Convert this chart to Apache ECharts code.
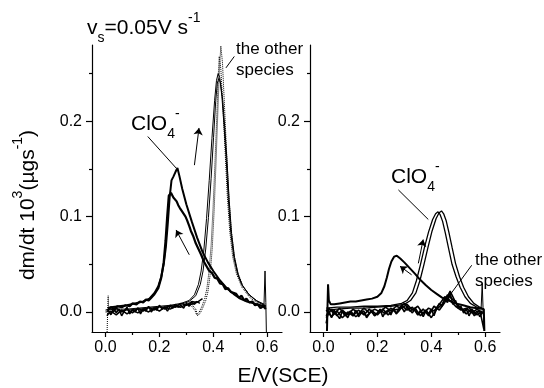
<!DOCTYPE html>
<html>
<head>
<meta charset="utf-8">
<script src="https://cdn.jsdelivr.net/npm/echarts@6/dist/echarts.min.js"></script>
<style>
  html, body { margin: 0; padding: 0; background: #fff; }
  #chart { width: 544px; height: 388px; }
</style>
</head>
<body>
<div id="chart"></div>
<script>
const FONT = 'Liberation Sans, Arial, Helvetica, sans-serif';

// tick values
const xMajorTicks = [0, 0.2, 0.4, 0.6];
const xMinorTicks = [0.1, 0.3, 0.5];
const yMajorTicks = [0, 0.1, 0.2];
const yMinorTicks = [0.05, 0.15, 0.25];

// ---- left panel: [E (V), dm/dt] ----
const leftFwdSolidA = [[0.00,0.002],[0.04,0.003],[0.08,0.003],[0.12,0.004],[0.16,0.005],[0.20,0.006],[0.24,0.007],[0.28,0.009],[0.31,0.012],[0.33,0.018],[0.345,0.029],[0.355,0.043],[0.365,0.065],[0.375,0.098],[0.385,0.138],[0.395,0.182],[0.405,0.222],[0.412,0.243],[0.418,0.250],[0.424,0.246],[0.432,0.226],[0.440,0.195],[0.448,0.160],[0.456,0.118],[0.465,0.083],[0.476,0.058],[0.490,0.040],[0.505,0.029],[0.53,0.019],[0.56,0.012],[0.59,0.008]];
const leftFwdSolidB = [[0.00,0.000],[0.04,0.001],[0.08,0.002],[0.12,0.003],[0.16,0.004],[0.20,0.005],[0.24,0.006],[0.28,0.008],[0.31,0.011],[0.335,0.017],[0.352,0.029],[0.362,0.043],[0.372,0.066],[0.382,0.099],[0.392,0.140],[0.401,0.183],[0.409,0.221],[0.415,0.240],[0.421,0.245],[0.427,0.240],[0.435,0.222],[0.443,0.192],[0.451,0.158],[0.459,0.117],[0.468,0.082],[0.479,0.057],[0.493,0.039],[0.508,0.028],[0.533,0.018],[0.563,0.011],[0.59,0.007]];
const leftFwdDotA = [[0.30,0.010],[0.32,0.008],[0.335,0.003],[0.342,-0.004],[0.352,-0.001],[0.362,0.005],[0.372,0.012],[0.38,0.021],[0.388,0.038],[0.396,0.066],[0.403,0.105],[0.41,0.155],[0.417,0.21],[0.423,0.255],[0.428,0.279],[0.434,0.262],[0.441,0.22],[0.449,0.17],[0.457,0.125],[0.466,0.088],[0.477,0.06],[0.49,0.042],[0.51,0.027],[0.54,0.016],[0.57,0.01],[0.595,0.006]];
const leftFwdDotB = [[0.30,0.009],[0.32,0.006],[0.333,0.001],[0.338,-0.003],[0.348,0.0],[0.358,0.006],[0.368,0.014],[0.376,0.024],[0.384,0.042],[0.392,0.07],[0.399,0.108],[0.406,0.155],[0.413,0.205],[0.418,0.245],[0.422,0.268],[0.428,0.255],[0.436,0.215],[0.444,0.168],[0.452,0.122],[0.461,0.085],[0.472,0.058],[0.486,0.04],[0.506,0.026],[0.536,0.015],[0.566,0.009],[0.595,0.005]];
const leftBackThick = [[0.595,0.006],[0.575,0.007],[0.55,0.009],[0.525,0.011],[0.5,0.014],[0.475,0.019],[0.45,0.025],[0.425,0.033],[0.40,0.043],[0.38,0.052],[0.36,0.063],[0.34,0.078],[0.32,0.095],[0.30,0.113],[0.285,0.129],[0.274,0.143],[0.267,0.151],[0.260,0.147],[0.252,0.142],[0.245,0.138],[0.238,0.12],[0.231,0.092],[0.224,0.068],[0.216,0.05],[0.207,0.037],[0.196,0.027],[0.182,0.02],[0.163,0.014],[0.14,0.011],[0.11,0.009],[0.08,0.007],[0.05,0.006],[0.02,0.005],[0.008,0.004]];
const leftBackMarker = [[0.595,0.003],[0.585,0.006],[0.575,0.004],[0.565,0.008],[0.555,0.007],[0.545,0.011],[0.533,0.01],[0.523,0.014],[0.515,0.012],[0.505,0.017],[0.495,0.015],[0.485,0.019],[0.475,0.02],[0.465,0.021],[0.455,0.025],[0.445,0.024],[0.435,0.029],[0.425,0.03],[0.415,0.035],[0.405,0.036],[0.395,0.041],[0.385,0.043],[0.375,0.048],[0.365,0.053],[0.355,0.06],[0.345,0.066],[0.335,0.072],[0.325,0.08],[0.317,0.085],[0.311,0.09],[0.303,0.096],[0.297,0.1],[0.29,0.102],[0.283,0.106],[0.276,0.109],[0.27,0.112],[0.264,0.116],[0.258,0.118],[0.252,0.12],[0.248,0.122],[0.243,0.125],[0.24,0.127],[0.235,0.122],[0.229,0.1],[0.223,0.075],[0.216,0.052],[0.207,0.036],[0.196,0.025],[0.18,0.018],[0.17,0.015],[0.16,0.012],[0.15,0.013],[0.14,0.01],[0.128,0.011],[0.115,0.008],[0.1,0.009],[0.09,0.006],[0.075,0.007],[0.06,0.005],[0.045,0.006],[0.03,0.003],[0.02,0.005],[0.01,0.002]];
const leftBase1 = [[0.005,0.003],[0.02,-0.002],[0.04,0.004],[0.06,0.0],[0.08,0.003],[0.10,-0.001],[0.12,0.004],[0.14,0.001],[0.16,0.005],[0.18,0.002],[0.20,0.006],[0.22,0.003],[0.24,0.007],[0.26,0.005],[0.28,0.009],[0.30,0.007],[0.32,0.011],[0.34,0.01],[0.36,0.014]];
const leftBase2 = [[0.005,-0.004],[0.02,0.001],[0.04,-0.003],[0.06,0.002],[0.08,-0.002],[0.10,0.002],[0.12,-0.001],[0.14,0.003],[0.16,0.0],[0.18,0.004],[0.20,0.001],[0.22,0.005],[0.24,0.003],[0.26,0.006],[0.28,0.005],[0.30,0.008],[0.32,0.008],[0.34,0.011]];
const leftBase3E = [0.01,0.02,0.03,0.04,0.05,0.06,0.07,0.08,0.09,0.10,0.11,0.12,0.13,0.14,0.15,0.16,0.17,0.18,0.19,0.20,0.21,0.22,0.23,0.24,0.25,0.26,0.27,0.28,0.29,0.30,0.31,0.32,0.33,0.34,0.35];
const leftBase3 = [0.002,-0.003,0.004,-0.001,0.003,-0.004,0.001,0.005,-0.002,0.002,0.0,0.004,-0.002,0.003,0.001,0.006,0.0,0.004,0.002,0.007,0.003,0.005,0.001,0.006,0.004,0.008,0.005,0.007,0.004,0.009,0.006,0.01,0.008,0.011,0.009];
const leftSpikeStart = [[0.006,-0.021],[0.008,0.0],[0.01,0.017],[0.012,0.002],[0.014,0.004]];
const leftSpikeEnd = [[0.588,0.006],[0.592,0.043],[0.595,0.01],[0.597,-0.021]];

// ---- right panel ----
const rightFwdA = [[0.01,0.004],[0.05,0.005],[0.10,0.005],[0.15,0.006],[0.20,0.006],[0.25,0.007],[0.29,0.009],[0.31,0.012],[0.33,0.02],[0.345,0.033],[0.36,0.05],[0.375,0.068],[0.39,0.084],[0.405,0.097],[0.416,0.103],[0.425,0.105],[0.433,0.102],[0.442,0.095],[0.452,0.083],[0.464,0.067],[0.477,0.05],[0.492,0.037],[0.507,0.026],[0.525,0.016],[0.545,0.009],[0.57,0.005],[0.595,0.003]];
const rightFwdB = [[0.01,0.002],[0.05,0.003],[0.10,0.004],[0.15,0.004],[0.20,0.005],[0.25,0.006],[0.30,0.008],[0.323,0.012],[0.343,0.02],[0.358,0.033],[0.373,0.05],[0.388,0.068],[0.403,0.085],[0.418,0.098],[0.429,0.104],[0.438,0.106],[0.446,0.103],[0.455,0.096],[0.465,0.084],[0.477,0.068],[0.49,0.051],[0.505,0.037],[0.52,0.026],[0.538,0.016],[0.558,0.009],[0.58,0.005],[0.595,0.003]];
const rightBack = [[0.597,-0.02],[0.595,0.003],[0.57,0.004],[0.545,0.005],[0.518,0.007],[0.49,0.009],[0.465,0.012],[0.44,0.015],[0.42,0.019],[0.40,0.023],[0.38,0.028],[0.358,0.034],[0.34,0.04],[0.32,0.046],[0.30,0.052],[0.285,0.056],[0.272,0.059],[0.262,0.058],[0.252,0.053],[0.243,0.045],[0.235,0.036],[0.226,0.027],[0.215,0.02],[0.2,0.016],[0.18,0.014],[0.16,0.013],[0.14,0.012],[0.12,0.011],[0.1,0.011],[0.08,0.01],[0.06,0.009],[0.04,0.008],[0.027,0.008],[0.02,0.012],[0.017,0.029],[0.015,0.006],[0.013,-0.02]];
const rightOtherE = [0.01,0.03,0.05,0.07,0.09,0.11,0.13,0.15,0.17,0.19,0.21,0.23,0.25,0.27,0.29,0.31,0.33,0.35,0.37,0.39,0.41,0.43,0.45,0.47,0.49,0.51,0.53,0.55,0.57,0.59];
const rightOther1 = [-0.006,0.003,-0.004,0.002,-0.003,0.003,-0.002,0.004,-0.001,0.003,0.0,0.005,0.001,0.006,0.004,0.008,0.002,0.006,-0.002,0.004,0.001,0.008,0.016,0.012,0.006,0.002,0.004,-0.001,0.003,-0.002];
const rightOther2 = [0.002,-0.005,0.001,-0.006,0.0,-0.004,0.002,-0.003,0.003,-0.004,0.002,-0.002,0.004,-0.001,0.007,0.002,0.005,-0.003,0.003,-0.004,0.006,0.002,0.01,0.022,0.01,0.004,-0.002,0.003,-0.003,0.001];
const rightOther3E = [0.01,0.02,0.04,0.06,0.08,0.10,0.12,0.14,0.16,0.18,0.20,0.22,0.24,0.26,0.28,0.30,0.32,0.34,0.36,0.38,0.40,0.42,0.44,0.46,0.48,0.50,0.52,0.54,0.56,0.58,0.595];
const rightOther3 = [-0.012,0.004,-0.002,0.004,-0.004,0.001,-0.005,0.0,-0.004,0.001,-0.003,0.003,-0.003,0.002,0.003,0.009,0.001,0.004,-0.004,0.002,-0.006,0.003,0.008,0.018,0.013,0.006,0.001,0.005,-0.004,0.002,-0.018];
const rightOther4E = [0.01,0.02,0.03,0.04,0.05,0.06,0.07,0.08,0.09,0.10,0.11,0.12,0.13,0.14,0.15,0.16,0.17,0.18,0.19,0.20,0.21,0.22,0.23,0.24,0.25,0.26,0.27,0.28,0.29,0.30,0.31,0.32,0.33,0.34,0.35,0.36,0.37,0.38,0.39,0.40,0.41,0.42,0.43,0.44,0.45,0.46,0.47,0.48,0.49,0.50,0.51,0.52,0.53,0.54,0.55,0.56,0.57,0.58,0.59];
const rightOther4 = [-0.004,0.001,-0.006,0.002,-0.003,-0.007,0.001,-0.002,-0.006,0.0,-0.004,0.002,-0.005,-0.001,0.001,-0.006,-0.002,0.002,-0.004,-0.001,0.003,-0.005,0.0,0.002,-0.003,0.004,-0.002,0.001,0.005,0.0,0.006,0.002,-0.001,0.004,-0.003,0.002,-0.005,0.001,-0.002,0.003,-0.004,0.004,0.009,0.006,0.014,0.01,0.02,0.008,0.012,0.004,0.006,-0.001,0.003,-0.004,0.002,-0.002,0.001,-0.005,0.0];
const rightSpikeEnd = [[0.585,0.004],[0.589,0.03],[0.592,0.005],[0.596,-0.02]];

// ---- annotations (data coords) ----
const leftArrows = [[[0.330,0.154],[0.347,0.193]], [[0.311,0.060],[0.262,0.086]]];
const leftLeaders = [[[0.157,0.184],[0.262,0.151]], [[0.447,0.256],[0.478,0.268]]];
const rightArrows = [[[0.352,0.051],[0.370,0.076]], [[0.327,0.039],[0.284,0.048]]];
const rightLeaders = [[[0.278,0.128],[0.389,0.097]], [[0.550,0.049],[0.457,0.013]]];

const zip = (xs, ys) => xs.map((x, i) => [x, ys[i]]);

function mainX(grid) {
  return {
    type: 'value', gridIndex: grid, min: -0.05, max: 0.655, position: 'bottom',
    axisLine: { show: true, onZero: false, lineStyle: { color: '#000', width: 1.2 } },
    axisTick: { show: true, length: 5, customValues: xMajorTicks, lineStyle: { color: '#000', width: 1.2 } },
    axisLabel: { show: true, customValues: xMajorTicks, margin: 8, color: '#000', fontSize: 16, fontFamily: FONT,
      formatter: v => v.toFixed(1) },
    splitLine: { show: false },
  };
}
function minorX(grid) {
  return {
    type: 'value', gridIndex: grid, min: -0.05, max: 0.655, position: 'bottom',
    axisLine: { show: false, onZero: false },
    axisTick: { show: true, length: 3, customValues: xMinorTicks, lineStyle: { color: '#000', width: 1.2 } },
    axisLabel: { show: false },
    splitLine: { show: false },
  };
}
function mainY(grid) {
  return {
    type: 'value', gridIndex: grid, min: -0.021, max: 0.28, position: 'left',
    axisLine: { show: true, onZero: false, lineStyle: { color: '#000', width: 1.2 } },
    axisTick: { show: true, length: 6, customValues: yMajorTicks, lineStyle: { color: '#000', width: 1.2 } },
    axisLabel: { show: true, customValues: yMajorTicks, margin: 10, color: '#000', fontSize: 16, fontFamily: FONT,
      formatter: v => v.toFixed(1) },
    splitLine: { show: false },
  };
}
function minorY(grid) {
  return {
    type: 'value', gridIndex: grid, min: -0.021, max: 0.28, position: 'left',
    axisLine: { show: false, onZero: false },
    axisTick: { show: true, length: 3, customValues: yMinorTicks, lineStyle: { color: '#000', width: 1.2 } },
    axisLabel: { show: false },
    splitLine: { show: false },
  };
}

function line(data, axis, width, type, extra) {
  return Object.assign({
    type: 'line', xAxisIndex: axis, yAxisIndex: axis, data: data,
    showSymbol: false, symbol: 'none', silent: true, animation: false,
    lineStyle: { color: '#000', width: width, type: type || 'solid' },
    emphasis: { disabled: true },
  }, extra || {});
}
function marks(pairs, arrow) {
  return {
    markLine: {
      silent: true, animation: false,
      symbol: arrow ? ['none', 'arrow'] : ['none', 'none'],
      symbolSize: 7,
      label: { show: false },
      emphasis: { disabled: true },
      lineStyle: { color: '#000', width: 1, type: 'solid' },
      data: pairs.map(p => [{ coord: p[0] }, { coord: p[1] }]),
    },
  };
}

const rich = {
  n: { fontSize: 21, fontFamily: FONT, fill: '#000', lineHeight: 34 },
  b: { fontSize: 14, fontFamily: FONT, fill: '#000', lineHeight: 16, verticalAlign: 'bottom' },
  p: { fontSize: 14, fontFamily: FONT, fill: '#000', lineHeight: 16, verticalAlign: 'top' },
};
function label(x, y, text, align, extra) {
  return Object.assign({
    type: 'text', x: x, y: y, silent: true,
    style: { text: text, rich: rich, fill: '#000', font: '21px ' + FONT,
      align: align || 'left', verticalAlign: 'middle', textAlign: align || 'left', textVerticalAlign: 'middle' },
  }, extra || {});
}
function plain(x, y, text, size, align) {
  return {
    type: 'text', x: x, y: y, silent: true,
    style: { text: text, fill: '#000', font: size + 'px ' + FONT,
      align: align || 'left', verticalAlign: 'middle', textAlign: align || 'left', textVerticalAlign: 'middle' },
  };
}

const chart = echarts.init(document.getElementById('chart'));
chart.setOption({
  animation: false,
  backgroundColor: '#fff',
  grid: [
    { left: 92, top: 45, width: 190, height: 287 },
    { left: 310, top: 45, width: 190, height: 287 },
  ],
  xAxis: [mainX(0), minorX(0), mainX(1), minorX(1)],
  yAxis: [mainY(0), minorY(0), mainY(1), minorY(1)],
  series: [
    line(leftBase1, 0, 1.5),
    line(leftBase2, 0, 1.5),
    line(zip(leftBase3E, leftBase3), 0, 1.5),
    line(leftFwdSolidA, 0, 1, 'solid', marks(leftArrows, true)),
    line(leftFwdSolidB, 0, 1, 'solid', marks(leftLeaders, false)),
    line(leftFwdDotA, 0, 1, 'dotted'),
    line(leftFwdDotB, 0, 1, 'dotted'),
    line(leftBackThick, 0, 2),
    line(leftBackMarker, 0, 2.2),
    line(leftSpikeStart, 0, 1, 'dotted'),
    line(leftSpikeEnd, 0, 1),
    line(zip(rightOtherE, rightOther1), 2, 1.6),
    line(zip(rightOtherE, rightOther2), 2, 1.6),
    line(zip(rightOther3E, rightOther3), 2, 1.6),
    line(zip(rightOther4E, rightOther4), 2, 1.6),
    line(rightFwdA, 2, 1.3, 'solid', marks(rightArrows, true)),
    line(rightFwdB, 2, 1.3, 'solid', marks(rightLeaders, false)),
    line(rightBack, 2, 2),
    line(rightSpikeEnd, 2, 1),
  ],
  graphic: [
    label(87, 28, '{n|v}{b|s}{n|=0.05V s}{p|-1}'),
    label(131, 124.5, '{n|ClO}{b|4}{p|-}'),
    label(391, 177.5, '{n|ClO}{b|4}{p|-}'),
    plain(236, 49, 'the other', 17),
    plain(236, 70, 'species', 17),
    plain(475, 260, 'the other', 17),
    plain(475, 281, 'species', 17),
    plain(283, 376, 'E/V(SCE)', 21, 'center'),
    label(28, 205, '{n|dm/dt 10}{p|3}{n|(µgs}{p|-1}{n|)}', 'center', { rotation: Math.PI / 2 }),
  ],
});
</script>
</body>
</html>
